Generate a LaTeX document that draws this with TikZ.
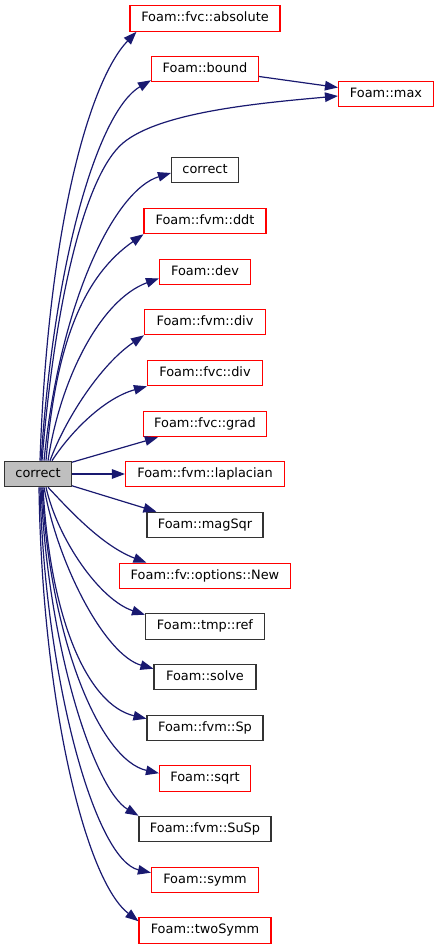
\documentclass[tikz,border=0pt]{standalone}
\usepackage{fontspec}
\setmainfont{DejaVu Sans}
\usetikzlibrary{arrows.meta}
\definecolor{edgeblue}{HTML}{191970}
\definecolor{rootfill}{HTML}{BFBFBF}
\definecolor{boxgrey}{HTML}{333333}
\begin{document}
\begin{tikzpicture}[x=1pt,y=-1pt,
  fnode/.style={draw, rectangle, minimum height=25.5pt, inner xsep=2pt, inner ysep=0pt,
    line width=1.1pt, text height=9.4pt, text depth=2.9pt,
    font=\fontsize{12.9}{15}\selectfont, text=black},
  redbox/.style={fnode, draw=red},
  blackbox/.style={fnode, draw=boxgrey},
  rootbox/.style={fnode, draw=boxgrey, fill=rootfill},
  edge/.style={draw=edgeblue, line width=1.2pt, -{Triangle[length=13pt,width=9.5pt]}}]
\useasboundingbox (0,0) rectangle (439,949);

\node[rootbox, minimum width=67pt] (root) at (38,474) {correct};

\node[redbox, minimum width=150pt] (absolute) at (205,18.5) {Foam::fvc::absolute};
\node[redbox, minimum width=107pt] (bound) at (205,69) {Foam::bound};
\node[redbox, minimum width=95pt] (max) at (386,94) {Foam::max};
\node[blackbox, minimum width=67pt] (correct2) at (205,170) {correct};
\node[redbox, minimum width=122pt] (ddt) at (205,221) {Foam::fvm::ddt};
\node[redbox, minimum width=91pt] (dev) at (205,272) {Foam::dev};
\node[redbox, minimum width=121pt] (fvmdiv) at (205,322) {Foam::fvm::div};
\node[redbox, minimum width=115pt] (fvcdiv) at (205,373) {Foam::fvc::div};
\node[redbox, minimum width=123pt] (grad) at (205,424) {Foam::fvc::grad};
\node[redbox, minimum width=159pt] (lap) at (205,474) {Foam::fvm::laplacian};
\node[blackbox, minimum width=116pt] (magsqr) at (205,525) {Foam::magSqr};
\node[redbox, minimum width=171pt] (new) at (205,576) {Foam::fv::options::New};
\node[blackbox, minimum width=119pt] (ref) at (205,626.5) {Foam::tmp::ref};
\node[blackbox, minimum width=102pt] (solve) at (205,677) {Foam::solve};
\node[blackbox, minimum width=116pt] (sp) at (205,728) {Foam::fvm::Sp};
\node[redbox, minimum width=91pt] (sqrt) at (205,778.5) {Foam::sqrt};
\node[blackbox, minimum width=132pt] (susp) at (205,829) {Foam::fvm::SuSp};
\node[redbox, minimum width=107pt] (symm) at (205,880) {Foam::symm};
\node[redbox, minimum width=132pt] (twosymm) at (205,930.5) {Foam::twoSymm};

% upward edges
\draw[edge] ([xshift=2pt]root.north) .. controls (48,225) and (90,80) .. ([xshift=7pt]absolute.south west);
\draw[edge] ([xshift=3pt]root.north) .. controls (55,250) and (100,110) .. ([yshift=2pt]bound.south west);
\draw[edge] ([xshift=4pt]root.north) .. controls (55,300) and (85,175) .. (123,143)
  .. controls (160,112) and (260,103) .. ([yshift=-2pt]max.west);
\draw[edge] ([yshift=-7.5pt]bound.east) -- ([yshift=6.5pt]max.west);
\draw[edge] ([xshift=6pt]root.north) .. controls (60,300) and (115,190) .. ([yshift=-3pt]correct2.west);
\draw[edge] ([xshift=8pt]root.north) .. controls (56,340) and (85,275) .. (ddt.south west);
\draw[edge] ([xshift=10pt]root.north) .. controls (60,380) and (100,300) .. ([yshift=7pt]dev.south west);
\draw[edge] ([xshift=12pt]root.north) .. controls (65,420) and (100,365) .. (fvmdiv.south west);
\draw[edge] ([xshift=14pt]root.north) .. controls (72,430) and (105,398) .. (fvcdiv.south west);
\draw[edge] ([yshift=-1.5pt]root.north east) -- ([xshift=15pt]grad.south west);
\draw[edge] (root.east) -- (lap.west);
\draw[edge] ([yshift=1.5pt]root.south east) -- ([xshift=10pt]magsqr.north west);

% downward edges
\draw[edge] ([xshift=10pt]root.south) .. controls (65,505) and (100,545) .. ([xshift=27.5pt]new.north west);
\draw[edge] ([xshift=8pt]root.south) .. controls (58,540) and (100,600) .. ([yshift=-1.5pt]ref.north west);
\draw[edge] ([xshift=6pt]root.south) .. controls (58,565) and (105,655) .. ([yshift=-5pt]solve.north west);
\draw[edge] ([xshift=5pt]root.south) .. controls (50,620) and (88,705) .. ([yshift=-4pt]sp.north west);
\draw[edge] ([xshift=4pt]root.south) .. controls (50,640) and (100,760) .. ([yshift=-8pt]sqrt.north west);
\draw[edge] ([xshift=3pt]root.south) .. controls (48,650) and (95,790) .. (susp.north west);
\draw[edge] ([xshift=2pt]root.south) .. controls (45,680) and (95,860) .. ([yshift=-6pt]symm.north west);
\draw[edge] ([xshift=1pt]root.south) .. controls (42,700) and (85,880) .. ([yshift=-4pt]twosymm.north west);
\end{tikzpicture}
\end{document}
